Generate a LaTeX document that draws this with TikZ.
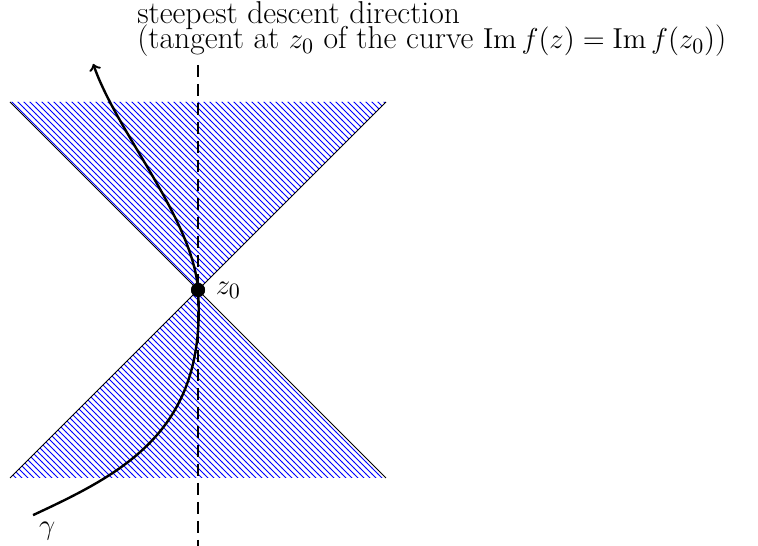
\documentclass[tikz,border=0pt]{standalone}
\usepackage{amsmath,amssymb}
\usetikzlibrary{patterns, positioning}
\newcommand{\tightlines}{\lineskiplimit=-20pt\relax}

\begin{document}
\begin{tikzpicture}[
    x=23.5pt, y=23.5pt,
    cone/.style={pattern=north west lines, pattern color=blue},
    rim/.style={draw=black, line width=0.4pt},
    contour/.style={line width=1.2pt},
    sdline/.style={line width=1.2pt, dash pattern=on 6pt off 3.5pt},
    dot/.style={circle, fill=black, inner sep=0pt, minimum size=7pt},
    lbl/.style={inner sep=0pt, font=\fontsize{15.8}{12.5}\selectfont\tightlines},
]
\useasboundingbox (-4.213,-5.447) rectangle (11.915,6.17);
% the two sectors
\coordinate (tl) at (-4,4);
\coordinate (tr) at (4,4);
\coordinate (bl) at (-4,-4);
\coordinate (br) at (4,-4);
\node[dot] (z0) at (0,0) {};
\fill[cone] (tl) -- (z0.center) -- (tr) -- cycle;
\fill[cone] (bl) -- (z0.center) -- (br) -- cycle;
\draw[rim] (tl) -- (br);
\draw[rim] (bl) -- (tr);
% steepest descent direction
\coordinate (dtop) at (0,4.79);
\coordinate (dbot) at (0,-5.45);
\draw[sdline] (dtop) -- (dbot);
% the contour
\coordinate (gin) at (-3.51,-4.79);
\coordinate (gout) at (-2.23,4.81);
\draw[contour,->] (gin) .. controls (-1.6,-3.9) and (0.2,-3.0) .. (z0.center)
      .. controls (-0.1,1.5) and (-1.73,3.36) .. (gout);
\node[dot] at (z0) {};
\node[lbl, right=5pt of z0] (z0lbl) {$z_0$};
\node[lbl] (gam) at (-3.21,-5.13) {$\gamma$};
\node[lbl, anchor=north west, align=left] (title) at (-1.3,6.14)
     {steepest descent direction\\
      (tangent at $z_0$ of the curve $\operatorname{Im} f(z) = \operatorname{Im} f(z_0)$)};
\end{tikzpicture}
\end{document}
